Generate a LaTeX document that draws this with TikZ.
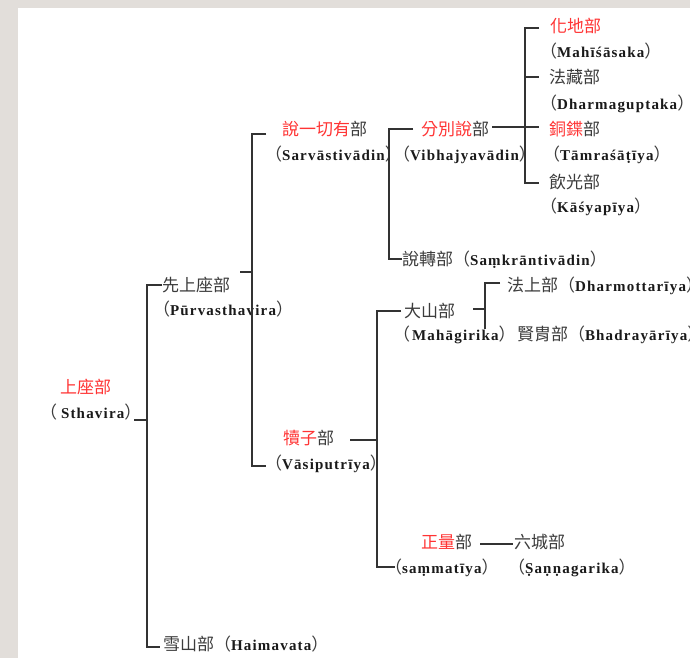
\documentclass[tikz,border=0pt]{standalone}
\usepackage{fontspec}
\setmainfont{Liberation Serif}[LetterSpace=8]
\newfontfamily\cjk{Noto Sans CJK TC}
\definecolor{bggray}{HTML}{E2DEDA}
\definecolor{zhgray}{HTML}{3C3C3C}
\definecolor{zhred}{HTML}{FF3434}
\definecolor{latc}{HTML}{1A1A1A}
\definecolor{linec}{HTML}{333333}
\newcommand\zh[1]{{\cjk\fontsize{17}{17}\selectfont\color{zhgray}#1}}
\newcommand\rd[1]{{\cjk\fontsize{17}{17}\selectfont\color{zhred}#1}}
\newcommand\la[1]{{\fontsize{15}{15}\selectfont\bfseries\color{latc}#1}}
\newcommand\lp{\zh{（}}
\newcommand\rp{\zh{）}}
\tikzset{
  lbl/.style={anchor=base west, inner sep=0pt, outer sep=0pt},
  ln/.style={draw=linec, line width=1.2pt}
}
\begin{document}
\begin{tikzpicture}[x=1pt,y=-1pt]
\fill[bggray] (0,0) rectangle (690,658);
\fill[white] (18,8) rectangle (690,658);
\useasboundingbox (0,0) rectangle (690,658);

% --- texts ---
\node[lbl] (huadi) at (550,33) {\rd{化地部}};
\node[lbl] (huadiL) at (540,58) {\lp\la{Mahīśāsaka}\rp};
\node[lbl] (fazang) at (549,84) {\zh{法藏部}};
\node[lbl] (fazangL) at (540,109.5) {\lp\la{Dharmaguptaka}\rp};
\node[lbl] (tongye) at (549,135.5) {\rd{銅鍱}\zh{部}};
\node[lbl] (tongyeL) at (543,160.5) {\lp\la{Tāmraśāṭīya}\rp};
\node[lbl] (yinguang) at (549,188) {\zh{飲光部}};
\node[lbl] (yinguangL) at (540,212.5) {\lp\la{Kāśyapīya}\rp};

\node[lbl] (fenbie) at (421,135.5) {\rd{分別說}\zh{部}};
\node[lbl] (fenbieL) at (393,160.5) {\lp\la{Vibhajyavādin}\rp};
\node[lbl] (sarva) at (282,135.5) {\rd{說一切有}\zh{部}};
\node[lbl] (sarvaL) at (265,160.5) {\lp\la{Sarvāstivādin}\rp};
\node[lbl] (shuozhuan) at (402,265) {\zh{說轉部（}\la{Saṃkrāntivādin}\rp};

\node[lbl] (xian) at (162,291) {\zh{先上座部}};
\node[lbl] (xianL) at (153,315.5) {\lp\la{Pūrvasthavira}\rp};
\node[lbl] (shangzuo) at (60,393.5) {\rd{上座部}};
\node[lbl] (shangzuoL) at (40,418.5) {\lp\hspace{4pt}\la{Sthavira}\rp};
\node[lbl] (xueshan) at (163,650) {\zh{雪山部（}\la{Haimavata}\rp};

\node[lbl] (duzi) at (283,444.5) {\rd{犢子}\zh{部}};
\node[lbl] (duziL) at (265,469) {\lp\la{Vāsiputrīya}\rp};

\node[lbl] (dashan) at (404,317) {\zh{大山部}};
\node[lbl] (dashanL) at (393,340.5) {\lp\hspace{2pt}\la{Mahāgirika}\rp};
\node[lbl] (fashang) at (507,291) {\zh{法上部（}\la{Dharmottarīya}\rp};
\node[lbl] (xianzhou) at (517,340.5) {\zh{賢胄部（}\la{Bhadrayārīya}\rp};

\node[lbl] (zhengliang) at (421,548) {\rd{正量}\zh{部}};
\node[lbl] (zhengliangL) at (385,573) {\lp\la{saṃmatīya}\rp};
\node[lbl] (liucheng) at (514,548) {\zh{六城部}};
\node[lbl] (liuchengL) at (508,573) {\lp\la{Ṣaṇṇagarika}\rp};

% --- bracket points ---
\coordinate (a1) at (539,28);  \coordinate (a1v) at (525,28);
\coordinate (a2) at (539,77);  \coordinate (a2v) at (525,77);
\coordinate (a3) at (539,127); \coordinate (a3p) at (492,127);
\coordinate (a4) at (539,183); \coordinate (a4v) at (525,183);

\coordinate (b1) at (413,129); \coordinate (b1v) at (389,129);
\coordinate (b2) at (402,259); \coordinate (b2v) at (389,259);

\coordinate (c1) at (266,134); \coordinate (c1v) at (252,134);
\coordinate (c2) at (266,466); \coordinate (c2v) at (252,466);
\coordinate (cp) at (240,272); \coordinate (cpv) at (252,272);

\coordinate (d1) at (162,285); \coordinate (d1v) at (147,285);
\coordinate (d2) at (160,647); \coordinate (d2v) at (147,647);
\coordinate (dp) at (134,420); \coordinate (dpv) at (147,420);

\coordinate (e1) at (401,311); \coordinate (e1v) at (377,311);
\coordinate (e2) at (395,567); \coordinate (e2v) at (377,567);
\coordinate (ep) at (350,440); \coordinate (epv) at (377,440);

\coordinate (f1) at (500,283); \coordinate (f1v) at (485,283);
\coordinate (f2v) at (485,329);
\coordinate (fp) at (473,309); \coordinate (fpv) at (485,309);

\coordinate (g1) at (480,544); \coordinate (g2) at (513,544);

% --- connectors ---
\draw[ln] (a1) -- (a1v) -- (a4v) -- (a4);
\draw[ln] (a2v) -- (a2);
\draw[ln] (a3p) -- (a3);
\draw[ln] (b1) -- (b1v) -- (b2v) -- (b2);
\draw[ln] (c1) -- (c1v) -- (c2v) -- (c2);
\draw[ln] (cp) -- (cpv);
\draw[ln] (d1) -- (d1v) -- (d2v) -- (d2);
\draw[ln] (dp) -- (dpv);
\draw[ln] (e1) -- (e1v) -- (e2v) -- (e2);
\draw[ln] (ep) -- (epv);
\draw[ln] (f1) -- (f1v) -- (f2v);
\draw[ln] (fp) -- (fpv);
\draw[ln] (g1) -- (g2);
\end{tikzpicture}
\end{document}
